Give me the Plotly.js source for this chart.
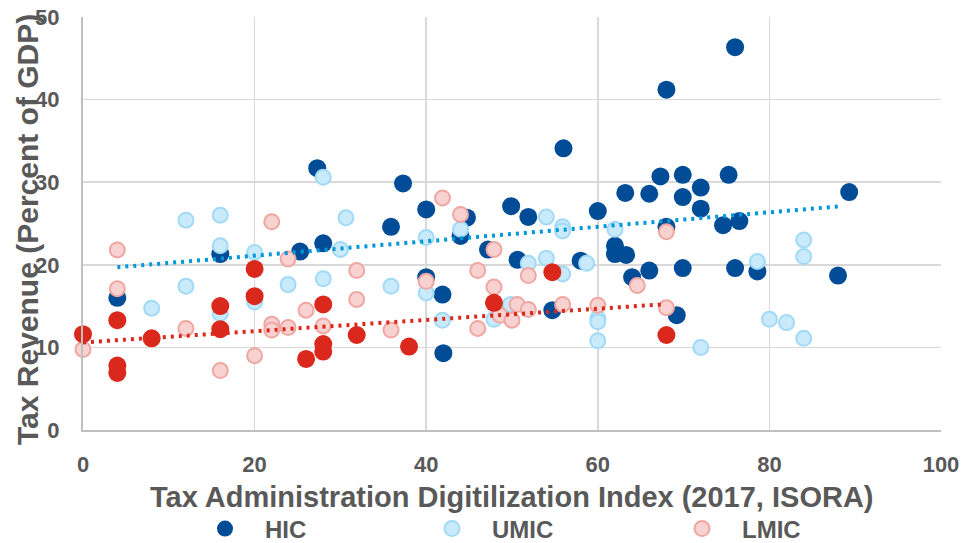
<!DOCTYPE html>
<html><head><meta charset="utf-8">
<script src="https://cdn.plot.ly/plotly-3.0.1.min.js"></script>
<style>html,body{margin:0;padding:0;background:#fff;}#chart{width:966px;height:543px;}</style>
</head><body><div id="chart"></div>
<script>
const hicX = [4,16,25.3,27.3,28,35.9,37.3,40,40,41.9,42,44,44.75,47.2,49.9,50.65,51.9,54.7,56,58,60,62,62,63.3,63.2,64,66,66,67.3,68,68,69.2,69.9,69.9,69.9,72,72,74.6,75.25,76,76,76.5,78.6,88,89.3];
const hicY = [16.0,21.3,21.6,31.7,22.6,24.6,29.85,26.7,18.5,16.4,9.3,23.5,25.7,21.85,27.1,20.6,25.8,14.5,34.1,20.5,26.5,22.3,21.3,21.2,28.7,18.5,28.6,19.3,30.7,24.6,41.2,13.9,30.9,28.2,19.6,29.35,26.8,24.8,30.9,46.35,19.6,25.3,19.2,18.7,28.8];
const umicX = [8,12,12,16,16,16,20,20,23.9,28,28,30,30.65,35.9,40,40,41.9,44,47.9,49.8,51.9,54,54,55.9,55.9,55.9,58.7,60,60,60,62,72,78.6,80,82,84,84,84];
const umicY = [14.75,25.4,17.4,26.0,22.3,14.1,21.5,15.5,17.6,30.6,18.3,21.85,25.7,17.4,23.3,16.6,13.3,24.3,13.4,15.2,20.2,25.8,20.8,24.6,24.1,18.9,20.2,13.5,13.1,10.8,24.3,10.0,20.4,13.4,13.0,23.0,21.0,11.1];
const lmicX = [0,4,4,12,16,20,22,22,22,23.9,23.9,26,28,31.9,31.9,35.9,40,41.9,44,46,46,47.9,47.9,48.6,50,50.6,51.9,51.9,55.9,60,64.6,68,68];
const lmicY = [9.76,21.8,17.1,12.3,7.2,9.0,25.2,12.8,12.1,20.7,12.4,14.5,12.6,19.3,15.8,12.1,18.0,28.1,26.1,19.3,12.3,21.85,17.3,13.9,13.3,15.2,18.7,14.6,15.2,15.1,17.5,24.0,14.8];
const licX = [0,4,4,4,8,16,16,20,20,26,28,28,28,31.9,38,47.9,54.7,68];
const licY = [11.6,13.3,7.8,6.9,11.1,15.0,12.2,19.5,16.2,8.6,15.2,10.4,9.5,11.5,10.1,15.4,19.1,11.5];
const blueTrendX = [4,88.5];
const blueTrendY = [19.7,27.1];
const redTrendX = [0,67.5];
const redTrendY = [10.6,15.2];
const xTicks = [0,20,40,60,80,100];
const yTicks = [0,10,20,30,40,50];
const seriesNames = ['HIC','UMIC','LMIC'];
const xTitle = 'Tax Administration Digitilization Index (2017, ISORA)';
const yTitle = 'Tax Revenue (Percent of GDP)';

const FONT = 'Liberation Sans, Arial, sans-serif';
const GRAY = '#595959';

const traces = [
  {x: hicX, y: hicY, name: seriesNames[0], type: 'scatter', mode: 'markers', cliponaxis: false,
   marker: {size: 18, color: '#004C97', line: {width: 0}}, legend: 'legend'},
  {x: umicX, y: umicY, name: seriesNames[1], type: 'scatter', mode: 'markers', cliponaxis: false,
   marker: {size: 15, color: '#C9EAFB', line: {width: 2, color: '#A0DAF7'}}, legend: 'legend2'},
  {x: lmicX, y: lmicY, name: seriesNames[2], type: 'scatter', mode: 'markers', cliponaxis: false,
   marker: {size: 15, color: '#F8D2D0', line: {width: 2, color: '#F0A7A2'}}, legend: 'legend3'},
  {x: licX, y: licY, name: 'LIC', type: 'scatter', mode: 'markers', cliponaxis: false, showlegend: false,
   marker: {size: 18, color: '#DA291C', line: {width: 0}}},
  {x: blueTrendX, y: blueTrendY, type: 'scatter', mode: 'lines', showlegend: false, hoverinfo: 'skip',
   line: {color: '#0096DB', width: 4, dash: '3px,5px'}},
  {x: redTrendX, y: redTrendY, type: 'scatter', mode: 'lines', showlegend: false, hoverinfo: 'skip',
   line: {color: '#DA291C', width: 4, dash: '3px,5px'}}
];

const legFont = {family: FONT, size: 24, color: GRAY, weight: 'bold'};
function leg(xpx) {
  return {orientation: 'h', xref: 'container', x: xpx / 966, xanchor: 'left',
          yref: 'container', y: 14 / 543, yanchor: 'middle',
          font: legFont, bgcolor: 'rgba(0,0,0,0)', itemwidth: 70, itemclick: false};
}

const titleFont = {family: FONT, size: 29, color: GRAY, weight: 'bold'};

const layout = {
  width: 966, height: 543,
  margin: {l: 83, r: 25, t: 17, b: 113, pad: 0, autoexpand: false},
  paper_bgcolor: '#ffffff', plot_bgcolor: '#ffffff',
  font: {family: FONT, color: GRAY},
  xaxis: {range: [0, 100], tickvals: xTicks, ticktext: xTicks.map(String), showgrid: true, gridcolor: '#D9D9D9', gridwidth: 1.5,
          showline: true, linecolor: '#BFBFBF', linewidth: 2, zeroline: false, ticks: '', ticklabelstandoff: 14, automargin: false,
          tickfont: {family: FONT, size: 22, color: GRAY, weight: 'bold'}},
  yaxis: {range: [0, 50], tickvals: yTicks, ticktext: yTicks.map(String), showgrid: true, gridcolor: '#D9D9D9', gridwidth: 1.5,
          showline: true, linecolor: '#BFBFBF', linewidth: 2, zeroline: false, ticks: '', ticklabelstandoff: 17, automargin: false,
          tickfont: {family: FONT, size: 22, color: GRAY, weight: 'bold'}},
  showlegend: true,
  legend: leg(185), legend2: leg(412), legend3: leg(662),
  annotations: [
    {text: xTitle, xref: 'paper', yref: 'paper', x: 0.5, y: (430 - 497) / 413,
     xanchor: 'center', yanchor: 'middle', showarrow: false, font: titleFont},
    {text: yTitle, xref: 'paper', yref: 'paper', x: (27 - 83) / 858, y: (430 - 230) / 413,
     xanchor: 'center', yanchor: 'middle', textangle: -90, showarrow: false,
     font: {family: FONT, size: 30, color: GRAY, weight: 'bold'}}]
};

Plotly.newPlot('chart', traces, layout, {displayModeBar: false, staticPlot: true});
</script>
</body></html>
